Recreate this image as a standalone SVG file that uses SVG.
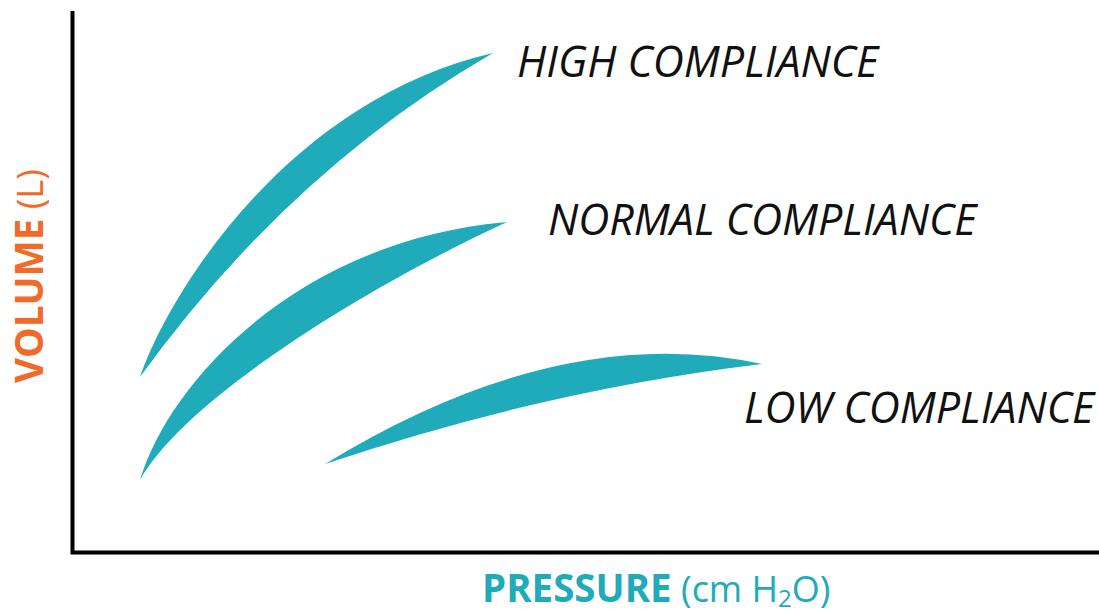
<svg xmlns="http://www.w3.org/2000/svg" width="1099" height="614" viewBox="0 0 1099 614">
<style>
.curve{fill:#20abbb;stroke:none}
.lbl{font-family:"Open Sans","Liberation Sans",sans-serif;font-style:italic;font-size:43px;fill:#111}
.axis{fill:none;stroke:#000;stroke-width:4}
.ax{font-family:"Open Sans","Liberation Sans",sans-serif;font-size:36px}
.b{font-weight:bold;font-size:38.5px}
</style>
<rect width="1099" height="614" fill="#fff"/>
<g id="axes">
<path class="axis" d="M72.5 11 V552.5 H1099"/>
</g>
<g id="high">
<path class="curve" d="M140 377 C170 290 290 100 493 53 Q290 170 140 377 Z"/>
<text class="lbl" x="517" y="77">HIGH COMPLIANCE</text>
</g>
<g id="normal">
<path class="curve" d="M140 480 C170 380 300 240 507 222 C360 290 185 400 140 480 Z"/>
<text class="lbl" x="548" y="235">NORMAL COMPLIANCE</text>
</g>
<g id="low">
<path class="curve" d="M325 464 Q560 320 762 364 Q545 390 325 464 Z"/>
<text class="lbl" x="744" y="423">LOW COMPLIANCE</text>
</g>
<g id="xlabel">
<text class="ax" x="482" y="602" fill="#20abbb"><tspan class="b">PRESSURE</tspan> (cm H<tspan font-size="24" dy="5">2</tspan><tspan dy="-5">O)</tspan></text>
</g>
<g id="ylabel">
<text class="ax" transform="translate(43 383) rotate(-90)" x="0" y="0" fill="#f26a2a"><tspan class="b">VOLUME</tspan> (L)</text>
</g>
</svg>
